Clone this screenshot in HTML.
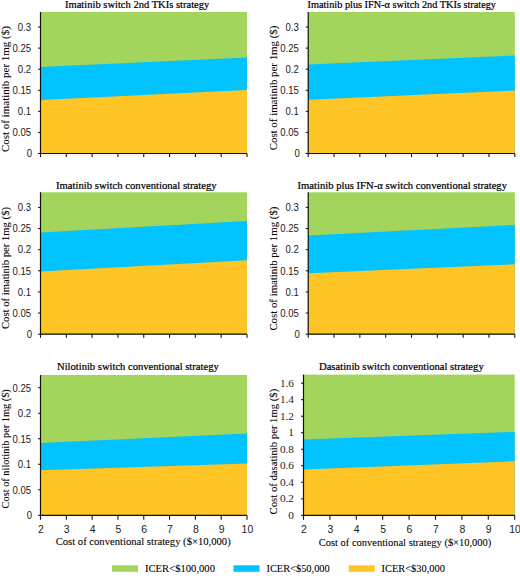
<!DOCTYPE html>
<html><head><meta charset="utf-8"><style>
html,body{margin:0;padding:0;background:#fff;}
svg{display:block;}
.tk{font-family:'Liberation Sans', sans-serif;font-size:10.4px;fill:#1a1a1a;}
.tks{font-family:'Liberation Serif', serif;font-size:11.3px;fill:#1a1a1a;}
.tx{font-family:'Liberation Sans', sans-serif;font-size:10.4px;fill:#1a1a1a;}
.tt{font-family:'Liberation Serif', serif;font-size:10.5px;fill:#000;stroke:#000;stroke-width:0.22px;}
.yl{font-family:'Liberation Serif', serif;font-size:10.6px;fill:#000;stroke:#000;stroke-width:0.08px;}
</style></head><body>
<svg width="520" height="576" viewBox="0 0 520 576">
<rect x="40.5" y="12" width="206.5" height="141.5" fill="#a3d45c"/>
<polygon points="40.5,67 247,57.5 247,153.5 40.5,153.5" fill="#00c3ff"/>
<polygon points="40.5,100 247,90 247,153.5 40.5,153.5" fill="#ffc425"/>
<path d="M40.5,12 V153.5 H247" fill="none" stroke="#111" stroke-width="1.2"/>
<line x1="38.0" y1="153.50" x2="40.5" y2="153.50" stroke="#111" stroke-width="1"/>
<text class="tk" transform="translate(32.10,157.25) scale(0.92,1)" text-anchor="end">0</text>
<line x1="38.0" y1="132.42" x2="40.5" y2="132.42" stroke="#111" stroke-width="1"/>
<text class="tk" transform="translate(31.10,136.17) scale(0.92,1)" text-anchor="end">0.05</text>
<line x1="38.0" y1="111.35" x2="40.5" y2="111.35" stroke="#111" stroke-width="1"/>
<text class="tk" transform="translate(31.10,115.10) scale(0.92,1)" text-anchor="end">0.1</text>
<line x1="38.0" y1="90.27" x2="40.5" y2="90.27" stroke="#111" stroke-width="1"/>
<text class="tk" transform="translate(31.10,94.02) scale(0.92,1)" text-anchor="end">0.15</text>
<line x1="38.0" y1="69.20" x2="40.5" y2="69.20" stroke="#111" stroke-width="1"/>
<text class="tk" transform="translate(31.10,72.95) scale(0.92,1)" text-anchor="end">0.2</text>
<line x1="38.0" y1="48.12" x2="40.5" y2="48.12" stroke="#111" stroke-width="1"/>
<text class="tk" transform="translate(31.10,51.87) scale(0.92,1)" text-anchor="end">0.25</text>
<line x1="38.0" y1="27.05" x2="40.5" y2="27.05" stroke="#111" stroke-width="1"/>
<text class="tk" transform="translate(31.10,30.80) scale(0.92,1)" text-anchor="end">0.3</text>
<line x1="40.50" y1="153.5" x2="40.50" y2="157.1" stroke="#111" stroke-width="1.1"/>
<line x1="66.31" y1="153.5" x2="66.31" y2="157.1" stroke="#111" stroke-width="1.1"/>
<line x1="92.12" y1="153.5" x2="92.12" y2="157.1" stroke="#111" stroke-width="1.1"/>
<line x1="117.94" y1="153.5" x2="117.94" y2="157.1" stroke="#111" stroke-width="1.1"/>
<line x1="143.75" y1="153.5" x2="143.75" y2="157.1" stroke="#111" stroke-width="1.1"/>
<line x1="169.56" y1="153.5" x2="169.56" y2="157.1" stroke="#111" stroke-width="1.1"/>
<line x1="195.38" y1="153.5" x2="195.38" y2="157.1" stroke="#111" stroke-width="1.1"/>
<line x1="221.19" y1="153.5" x2="221.19" y2="157.1" stroke="#111" stroke-width="1.1"/>
<line x1="247.00" y1="153.5" x2="247.00" y2="157.1" stroke="#111" stroke-width="1.1"/>
<text class="tt" x="65" y="8" textLength="144.3" lengthAdjust="spacingAndGlyphs">Imatinib switch 2nd TKIs strategy</text>
<text class="yl" transform="translate(9,152.1) rotate(-90)" textLength="126" lengthAdjust="spacingAndGlyphs">Cost of imatinib per 1mg ($)</text>
<rect x="308.2" y="12" width="206.59999999999997" height="141.5" fill="#a3d45c"/>
<polygon points="308.2,64.4 514.8,55.6 514.8,153.5 308.2,153.5" fill="#00c3ff"/>
<polygon points="308.2,99.8 514.8,90.5 514.8,153.5 308.2,153.5" fill="#ffc425"/>
<path d="M308.2,12 V153.5 H514.8" fill="none" stroke="#111" stroke-width="1.2"/>
<line x1="305.7" y1="153.50" x2="308.2" y2="153.50" stroke="#111" stroke-width="1"/>
<text class="tk" transform="translate(299.80,157.25) scale(0.92,1)" text-anchor="end">0</text>
<line x1="305.7" y1="132.42" x2="308.2" y2="132.42" stroke="#111" stroke-width="1"/>
<text class="tk" transform="translate(298.80,136.17) scale(0.92,1)" text-anchor="end">0.05</text>
<line x1="305.7" y1="111.35" x2="308.2" y2="111.35" stroke="#111" stroke-width="1"/>
<text class="tk" transform="translate(298.80,115.10) scale(0.92,1)" text-anchor="end">0.1</text>
<line x1="305.7" y1="90.27" x2="308.2" y2="90.27" stroke="#111" stroke-width="1"/>
<text class="tk" transform="translate(298.80,94.02) scale(0.92,1)" text-anchor="end">0.15</text>
<line x1="305.7" y1="69.20" x2="308.2" y2="69.20" stroke="#111" stroke-width="1"/>
<text class="tk" transform="translate(298.80,72.95) scale(0.92,1)" text-anchor="end">0.2</text>
<line x1="305.7" y1="48.12" x2="308.2" y2="48.12" stroke="#111" stroke-width="1"/>
<text class="tk" transform="translate(298.80,51.87) scale(0.92,1)" text-anchor="end">0.25</text>
<line x1="305.7" y1="27.05" x2="308.2" y2="27.05" stroke="#111" stroke-width="1"/>
<text class="tk" transform="translate(298.80,30.80) scale(0.92,1)" text-anchor="end">0.3</text>
<line x1="308.20" y1="153.5" x2="308.20" y2="157.1" stroke="#111" stroke-width="1.1"/>
<line x1="334.02" y1="153.5" x2="334.02" y2="157.1" stroke="#111" stroke-width="1.1"/>
<line x1="359.85" y1="153.5" x2="359.85" y2="157.1" stroke="#111" stroke-width="1.1"/>
<line x1="385.67" y1="153.5" x2="385.67" y2="157.1" stroke="#111" stroke-width="1.1"/>
<line x1="411.50" y1="153.5" x2="411.50" y2="157.1" stroke="#111" stroke-width="1.1"/>
<line x1="437.32" y1="153.5" x2="437.32" y2="157.1" stroke="#111" stroke-width="1.1"/>
<line x1="463.15" y1="153.5" x2="463.15" y2="157.1" stroke="#111" stroke-width="1.1"/>
<line x1="488.97" y1="153.5" x2="488.97" y2="157.1" stroke="#111" stroke-width="1.1"/>
<line x1="514.80" y1="153.5" x2="514.80" y2="157.1" stroke="#111" stroke-width="1.1"/>
<text class="tt" x="307.5" y="8" textLength="188.5" lengthAdjust="spacingAndGlyphs">Imatinib plus IFN-α switch 2nd TKIs strategy</text>
<text class="yl" transform="translate(277,150.3) rotate(-90)" textLength="124.7" lengthAdjust="spacingAndGlyphs">Cost of imatinib per 1mg ($)</text>
<rect x="40.5" y="192.3" width="206.5" height="141.89999999999998" fill="#a3d45c"/>
<polygon points="40.5,232.5 247,221.1 247,334.2 40.5,334.2" fill="#00c3ff"/>
<polygon points="40.5,271.6 247,260.2 247,334.2 40.5,334.2" fill="#ffc425"/>
<path d="M40.5,192.3 V334.2 H247" fill="none" stroke="#111" stroke-width="1.2"/>
<line x1="38.0" y1="334.20" x2="40.5" y2="334.20" stroke="#111" stroke-width="1"/>
<text class="tk" transform="translate(32.10,337.95) scale(0.92,1)" text-anchor="end">0</text>
<line x1="38.0" y1="313.07" x2="40.5" y2="313.07" stroke="#111" stroke-width="1"/>
<text class="tk" transform="translate(31.10,316.82) scale(0.92,1)" text-anchor="end">0.05</text>
<line x1="38.0" y1="291.93" x2="40.5" y2="291.93" stroke="#111" stroke-width="1"/>
<text class="tk" transform="translate(31.10,295.68) scale(0.92,1)" text-anchor="end">0.1</text>
<line x1="38.0" y1="270.80" x2="40.5" y2="270.80" stroke="#111" stroke-width="1"/>
<text class="tk" transform="translate(31.10,274.55) scale(0.92,1)" text-anchor="end">0.15</text>
<line x1="38.0" y1="249.66" x2="40.5" y2="249.66" stroke="#111" stroke-width="1"/>
<text class="tk" transform="translate(31.10,253.41) scale(0.92,1)" text-anchor="end">0.2</text>
<line x1="38.0" y1="228.53" x2="40.5" y2="228.53" stroke="#111" stroke-width="1"/>
<text class="tk" transform="translate(31.10,232.28) scale(0.92,1)" text-anchor="end">0.25</text>
<line x1="38.0" y1="207.39" x2="40.5" y2="207.39" stroke="#111" stroke-width="1"/>
<text class="tk" transform="translate(31.10,211.14) scale(0.92,1)" text-anchor="end">0.3</text>
<line x1="40.50" y1="334.2" x2="40.50" y2="337.8" stroke="#111" stroke-width="1.1"/>
<line x1="66.31" y1="334.2" x2="66.31" y2="337.8" stroke="#111" stroke-width="1.1"/>
<line x1="92.12" y1="334.2" x2="92.12" y2="337.8" stroke="#111" stroke-width="1.1"/>
<line x1="117.94" y1="334.2" x2="117.94" y2="337.8" stroke="#111" stroke-width="1.1"/>
<line x1="143.75" y1="334.2" x2="143.75" y2="337.8" stroke="#111" stroke-width="1.1"/>
<line x1="169.56" y1="334.2" x2="169.56" y2="337.8" stroke="#111" stroke-width="1.1"/>
<line x1="195.38" y1="334.2" x2="195.38" y2="337.8" stroke="#111" stroke-width="1.1"/>
<line x1="221.19" y1="334.2" x2="221.19" y2="337.8" stroke="#111" stroke-width="1.1"/>
<line x1="247.00" y1="334.2" x2="247.00" y2="337.8" stroke="#111" stroke-width="1.1"/>
<text class="tt" x="56" y="188.5" textLength="160.7" lengthAdjust="spacingAndGlyphs">Imatinib switch conventional strategy</text>
<text class="yl" transform="translate(9,329) rotate(-90)" textLength="122" lengthAdjust="spacingAndGlyphs">Cost of imatinib per 1mg ($)</text>
<rect x="308.2" y="192.3" width="206.59999999999997" height="141.89999999999998" fill="#a3d45c"/>
<polygon points="308.2,235.4 514.8,225 514.8,334.2 308.2,334.2" fill="#00c3ff"/>
<polygon points="308.2,273.3 514.8,264.2 514.8,334.2 308.2,334.2" fill="#ffc425"/>
<path d="M308.2,192.3 V334.2 H514.8" fill="none" stroke="#111" stroke-width="1.2"/>
<line x1="305.7" y1="334.20" x2="308.2" y2="334.20" stroke="#111" stroke-width="1"/>
<text class="tk" transform="translate(299.80,337.95) scale(0.92,1)" text-anchor="end">0</text>
<line x1="305.7" y1="313.07" x2="308.2" y2="313.07" stroke="#111" stroke-width="1"/>
<text class="tk" transform="translate(298.80,316.82) scale(0.92,1)" text-anchor="end">0.05</text>
<line x1="305.7" y1="291.93" x2="308.2" y2="291.93" stroke="#111" stroke-width="1"/>
<text class="tk" transform="translate(298.80,295.68) scale(0.92,1)" text-anchor="end">0.1</text>
<line x1="305.7" y1="270.80" x2="308.2" y2="270.80" stroke="#111" stroke-width="1"/>
<text class="tk" transform="translate(298.80,274.55) scale(0.92,1)" text-anchor="end">0.15</text>
<line x1="305.7" y1="249.66" x2="308.2" y2="249.66" stroke="#111" stroke-width="1"/>
<text class="tk" transform="translate(298.80,253.41) scale(0.92,1)" text-anchor="end">0.2</text>
<line x1="305.7" y1="228.53" x2="308.2" y2="228.53" stroke="#111" stroke-width="1"/>
<text class="tk" transform="translate(298.80,232.28) scale(0.92,1)" text-anchor="end">0.25</text>
<line x1="305.7" y1="207.39" x2="308.2" y2="207.39" stroke="#111" stroke-width="1"/>
<text class="tk" transform="translate(298.80,211.14) scale(0.92,1)" text-anchor="end">0.3</text>
<line x1="308.20" y1="334.2" x2="308.20" y2="337.8" stroke="#111" stroke-width="1.1"/>
<line x1="334.02" y1="334.2" x2="334.02" y2="337.8" stroke="#111" stroke-width="1.1"/>
<line x1="359.85" y1="334.2" x2="359.85" y2="337.8" stroke="#111" stroke-width="1.1"/>
<line x1="385.67" y1="334.2" x2="385.67" y2="337.8" stroke="#111" stroke-width="1.1"/>
<line x1="411.50" y1="334.2" x2="411.50" y2="337.8" stroke="#111" stroke-width="1.1"/>
<line x1="437.32" y1="334.2" x2="437.32" y2="337.8" stroke="#111" stroke-width="1.1"/>
<line x1="463.15" y1="334.2" x2="463.15" y2="337.8" stroke="#111" stroke-width="1.1"/>
<line x1="488.97" y1="334.2" x2="488.97" y2="337.8" stroke="#111" stroke-width="1.1"/>
<line x1="514.80" y1="334.2" x2="514.80" y2="337.8" stroke="#111" stroke-width="1.1"/>
<text class="tt" x="297.5" y="188.5" textLength="209.5" lengthAdjust="spacingAndGlyphs">Imatinib plus IFN-α switch conventional strategy</text>
<text class="yl" transform="translate(277,330.6) rotate(-90)" textLength="124" lengthAdjust="spacingAndGlyphs">Cost of imatinib per 1mg ($)</text>
<rect x="40.5" y="375" width="206.5" height="140.29999999999995" fill="#a3d45c"/>
<polygon points="40.5,443.1 247,433.5 247,515.3 40.5,515.3" fill="#00c3ff"/>
<polygon points="40.5,470.3 247,463.5 247,515.3 40.5,515.3" fill="#ffc425"/>
<path d="M40.5,375 V515.3 H247" fill="none" stroke="#111" stroke-width="1.2"/>
<line x1="38.0" y1="515.30" x2="40.5" y2="515.30" stroke="#111" stroke-width="1"/>
<text class="tk" transform="translate(32.10,519.05) scale(0.92,1)" text-anchor="end">0</text>
<line x1="38.0" y1="489.79" x2="40.5" y2="489.79" stroke="#111" stroke-width="1"/>
<text class="tk" transform="translate(31.10,493.54) scale(0.92,1)" text-anchor="end">0.05</text>
<line x1="38.0" y1="464.28" x2="40.5" y2="464.28" stroke="#111" stroke-width="1"/>
<text class="tk" transform="translate(31.10,468.03) scale(0.92,1)" text-anchor="end">0.1</text>
<line x1="38.0" y1="438.77" x2="40.5" y2="438.77" stroke="#111" stroke-width="1"/>
<text class="tk" transform="translate(31.10,442.52) scale(0.92,1)" text-anchor="end">0.15</text>
<line x1="38.0" y1="413.26" x2="40.5" y2="413.26" stroke="#111" stroke-width="1"/>
<text class="tk" transform="translate(31.10,417.01) scale(0.92,1)" text-anchor="end">0.2</text>
<line x1="38.0" y1="387.75" x2="40.5" y2="387.75" stroke="#111" stroke-width="1"/>
<text class="tk" transform="translate(31.10,391.50) scale(0.92,1)" text-anchor="end">0.25</text>
<line x1="40.50" y1="515.3" x2="40.50" y2="519.8" stroke="#111" stroke-width="1.1"/>
<text class="tx" x="40.90" y="533.40" text-anchor="middle">2</text>
<line x1="66.31" y1="515.3" x2="66.31" y2="519.8" stroke="#111" stroke-width="1.1"/>
<text class="tx" x="66.71" y="533.40" text-anchor="middle">3</text>
<line x1="92.12" y1="515.3" x2="92.12" y2="519.8" stroke="#111" stroke-width="1.1"/>
<text class="tx" x="92.53" y="533.40" text-anchor="middle">4</text>
<line x1="117.94" y1="515.3" x2="117.94" y2="519.8" stroke="#111" stroke-width="1.1"/>
<text class="tx" x="118.34" y="533.40" text-anchor="middle">5</text>
<line x1="143.75" y1="515.3" x2="143.75" y2="519.8" stroke="#111" stroke-width="1.1"/>
<text class="tx" x="144.15" y="533.40" text-anchor="middle">6</text>
<line x1="169.56" y1="515.3" x2="169.56" y2="519.8" stroke="#111" stroke-width="1.1"/>
<text class="tx" x="169.96" y="533.40" text-anchor="middle">7</text>
<line x1="195.38" y1="515.3" x2="195.38" y2="519.8" stroke="#111" stroke-width="1.1"/>
<text class="tx" x="195.78" y="533.40" text-anchor="middle">8</text>
<line x1="221.19" y1="515.3" x2="221.19" y2="519.8" stroke="#111" stroke-width="1.1"/>
<text class="tx" x="221.59" y="533.40" text-anchor="middle">9</text>
<line x1="247.00" y1="515.3" x2="247.00" y2="519.8" stroke="#111" stroke-width="1.1"/>
<text class="tx" x="247.40" y="533.40" text-anchor="middle">10</text>
<text class="tt" x="57" y="370" textLength="161.7" lengthAdjust="spacingAndGlyphs">Nilotinib switch conventional strategy</text>
<text class="yl" transform="translate(9,508.4) rotate(-90)" textLength="119.2" lengthAdjust="spacingAndGlyphs">Cost of nilotinib per 1mg ($)</text>
<rect x="303.5" y="374.6" width="211.20000000000005" height="140.69999999999993" fill="#a3d45c"/>
<polygon points="303.5,439.6 514.7,431.9 514.7,515.3 303.5,515.3" fill="#00c3ff"/>
<polygon points="303.5,469.5 514.7,461.25 514.7,515.3 303.5,515.3" fill="#ffc425"/>
<path d="M303.5,374.6 V515.3 H514.7" fill="none" stroke="#111" stroke-width="1.2"/>
<line x1="301.0" y1="515.30" x2="303.5" y2="515.30" stroke="#111" stroke-width="1"/>
<text class="tks" x="294.0" y="519.00" text-anchor="end">0</text>
<line x1="301.0" y1="498.79" x2="303.5" y2="498.79" stroke="#111" stroke-width="1"/>
<text class="tks" x="294.0" y="502.49" text-anchor="end">0.2</text>
<line x1="301.0" y1="482.27" x2="303.5" y2="482.27" stroke="#111" stroke-width="1"/>
<text class="tks" x="294.0" y="485.97" text-anchor="end">0.4</text>
<line x1="301.0" y1="465.76" x2="303.5" y2="465.76" stroke="#111" stroke-width="1"/>
<text class="tks" x="294.0" y="469.46" text-anchor="end">0.6</text>
<line x1="301.0" y1="449.24" x2="303.5" y2="449.24" stroke="#111" stroke-width="1"/>
<text class="tks" x="294.0" y="452.94" text-anchor="end">0.8</text>
<line x1="301.0" y1="432.73" x2="303.5" y2="432.73" stroke="#111" stroke-width="1"/>
<text class="tks" x="294.0" y="436.43" text-anchor="end">1</text>
<line x1="301.0" y1="416.22" x2="303.5" y2="416.22" stroke="#111" stroke-width="1"/>
<text class="tks" x="294.0" y="419.92" text-anchor="end">1.2</text>
<line x1="301.0" y1="399.70" x2="303.5" y2="399.70" stroke="#111" stroke-width="1"/>
<text class="tks" x="294.0" y="403.40" text-anchor="end">1.4</text>
<line x1="301.0" y1="383.19" x2="303.5" y2="383.19" stroke="#111" stroke-width="1"/>
<text class="tks" x="294.0" y="386.89" text-anchor="end">1.6</text>
<line x1="303.50" y1="515.3" x2="303.50" y2="519.8" stroke="#111" stroke-width="1.1"/>
<text class="tx" x="303.90" y="533.40" text-anchor="middle">2</text>
<line x1="329.90" y1="515.3" x2="329.90" y2="519.8" stroke="#111" stroke-width="1.1"/>
<text class="tx" x="330.30" y="533.40" text-anchor="middle">3</text>
<line x1="356.30" y1="515.3" x2="356.30" y2="519.8" stroke="#111" stroke-width="1.1"/>
<text class="tx" x="356.70" y="533.40" text-anchor="middle">4</text>
<line x1="382.70" y1="515.3" x2="382.70" y2="519.8" stroke="#111" stroke-width="1.1"/>
<text class="tx" x="383.10" y="533.40" text-anchor="middle">5</text>
<line x1="409.10" y1="515.3" x2="409.10" y2="519.8" stroke="#111" stroke-width="1.1"/>
<text class="tx" x="409.50" y="533.40" text-anchor="middle">6</text>
<line x1="435.50" y1="515.3" x2="435.50" y2="519.8" stroke="#111" stroke-width="1.1"/>
<text class="tx" x="435.90" y="533.40" text-anchor="middle">7</text>
<line x1="461.90" y1="515.3" x2="461.90" y2="519.8" stroke="#111" stroke-width="1.1"/>
<text class="tx" x="462.30" y="533.40" text-anchor="middle">8</text>
<line x1="488.30" y1="515.3" x2="488.30" y2="519.8" stroke="#111" stroke-width="1.1"/>
<text class="tx" x="488.70" y="533.40" text-anchor="middle">9</text>
<line x1="514.70" y1="515.3" x2="514.70" y2="519.8" stroke="#111" stroke-width="1.1"/>
<text class="tx" x="515.10" y="533.40" text-anchor="middle">10</text>
<text class="tt" x="319" y="370" textLength="164.7" lengthAdjust="spacingAndGlyphs">Dasatinib switch conventional strategy</text>
<text class="yl" transform="translate(277,514.4) rotate(-90)" textLength="125.7" lengthAdjust="spacingAndGlyphs">Cost of dasatinib per 1mg ($)</text>
<text class="yl" x="55.7" y="545" textLength="175" lengthAdjust="spacingAndGlyphs">Cost of conventional strategy ($×10,000)</text>
<text class="yl" x="318.8" y="546" textLength="172.5" lengthAdjust="spacingAndGlyphs">Cost of conventional strategy ($×10,000)</text>
<rect x="112" y="565.3" width="26" height="6.5" fill="#a3d45c"/>
<text class="yl" x="145" y="572" textLength="70" lengthAdjust="spacingAndGlyphs">ICER&lt;$100,000</text>
<rect x="233.5" y="565.3" width="26" height="6.5" fill="#00c3ff"/>
<text class="yl" x="266.5" y="572" textLength="63.2" lengthAdjust="spacingAndGlyphs">ICER&lt;$50,000</text>
<rect x="348.8" y="565.3" width="26" height="6.5" fill="#ffc425"/>
<text class="yl" x="381.5" y="572" textLength="63.5" lengthAdjust="spacingAndGlyphs">ICER&lt;$30,000</text>
</svg>
</body></html>
